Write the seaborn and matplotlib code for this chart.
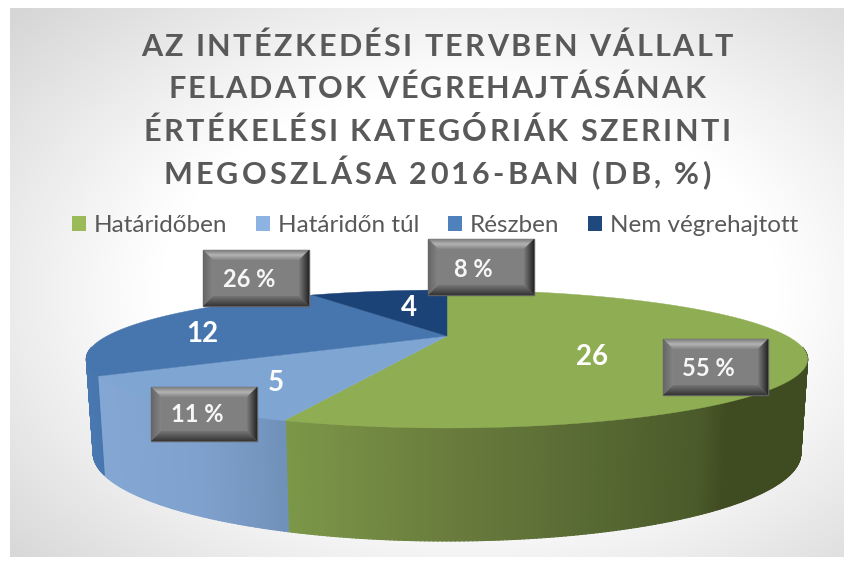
import numpy as np
import seaborn as sns
import matplotlib
matplotlib.use("Agg")
import matplotlib.pyplot as plt
from matplotlib.collections import PolyCollection
from matplotlib.colors import LinearSegmentedColormap, to_rgb
from matplotlib.patches import Patch, Polygon
from matplotlib.text import Text

# data
categories = ["Határidőben", "Határidőn túl", "Részben", "Nem végrehajtott"]
counts = [26, 5, 12, 4]
percents = ["55 %", "11 %", "26 %", "8 %"]
title_lines = ["AZ INTÉZKEDÉSI TERVBEN VÁLLALT", "FELADATOK VÉGREHAJTÁSÁNAK",
               "ÉRTÉKELÉSI KATEGÓRIÁK SZERINTI", "MEGOSZLÁSA 2016-BAN (DB, %)"]

# colours
legend_colors = sns.color_palette(["#9bbb59", "#8db3e2", "#4f81bd", "#1f497d"])
top_colors = sns.color_palette(["#8fae54", "#7fa5d3", "#4776ae", "#1b4377"])
wall_stops = [
    ([285, 440, 600, 700, 725, 810], ["#7c9848", "#6b7e3e", "#576933", "#4a5a2a", "#3f4c21", "#3f4c21"]),
    ([95, 200, 285], ["#84a7d4", "#7fa1cd", "#7092ba"]),
    ([85, 110], ["#4a78b0", "#4675ad"]),
    ([85, 110], ["#1b4377", "#1b4377"]),
]

# layout, in pixels of the 853x561 picture
sns.set_theme(style="white")
plt.rcParams["font.family"] = ["Lato", "DejaVu Sans"]
fig = plt.figure(figsize=(8.53, 5.61), dpi=100, facecolor="white")
ax = fig.add_axes([0, 0, 1, 1])
W, H = 853, 561
TOP = dict(a=340.0, b=61.3, cy=336.0)
BOTTOM = dict(a=333.6, b=78.0, cy=424.0)
CX, K = 447.0, 1.0 / 3.0


def project(theta, plane):
    # clockwise degrees from the top of the pie -> pixel, with perspective
    t = np.radians(theta)
    u, v = np.sin(t), np.cos(t)
    w = 1 + K * v
    return CX + plane["a"] * u / w, plane["cy"] - plane["b"] * v / w


def mix(stops, x):
    xs, cols = stops
    rgb = np.array([to_rgb(c) for c in cols])
    return [np.interp(x, xs, rgb[:, i]) for i in range(3)]


class TrackedText(Text):
    # one text object for the whole line, drawn with extra room between the letters
    tracking = 0.0

    def draw(self, renderer):
        prop = self.get_fontproperties()
        s = self.get_text()

        def width(part):
            return renderer.get_text_width_height_descent(part + "H", prop, False)[0] - \
                renderer.get_text_width_height_descent("H", prop, False)[0]

        x, y = self.get_transform().transform(self.get_position())
        y = renderer.height - y
        x = x - (width(s) + self.tracking * (len(s) - 1)) / 2
        gc = renderer.new_gc()
        gc.set_foreground(self.get_color())
        gc.set_antialiased(True)
        for i, ch in enumerate(s):
            if ch != " ":
                renderer.draw_text(gc, x + width(s[:i]) + self.tracking * i, y, ch, prop, 0)
        gc.restore()


# background
yy, xx = np.mgrid[0:1:200j, 0:1:300j]
dist = np.sqrt(((xx - 0.55) / 0.75) ** 2 + ((yy - 0.52) / 0.75) ** 2)
bg_cmap = LinearSegmentedColormap.from_list("bg", ["#ffffff", "#ffffff", "#d6d6d6"])
ax.imshow(np.clip(dist, 0, 1), extent=(10, 844, 557, 8), cmap=bg_cmap, vmin=0, vmax=1,
          aspect="auto", zorder=0, interpolation="bilinear")

# slices from the values
edges = np.concatenate([[0], np.cumsum(counts)]) / np.sum(counts) * 360

# side wall, thin strips so that it can be shaded
thetas = np.arange(100, 260, 0.5)
quads, quad_colors = [], []
for t0 in thetas:
    t1 = t0 + 0.6
    x0, y0 = project(t0, TOP)
    x1, y1 = project(t1, TOP)
    x2, y2 = project(t1, BOTTOM)
    x3, y3 = project(t0, BOTTOM)
    idx = np.searchsorted(edges, t0 + 0.25) - 1
    quads.append([(x0, y0), (x1, y1), (x2, y2), (x3, y3)])
    quad_colors.append(mix(wall_stops[idx], (x0 + x3) / 2))
ax.add_collection(PolyCollection(quads, facecolors=quad_colors, edgecolors=quad_colors,
                                 linewidths=0.8, zorder=2))

# top faces
for i in range(len(counts)):
    arc = np.linspace(edges[i], edges[i + 1], 200)
    px, py = project(arc, TOP)
    pts = np.column_stack([np.r_[CX, px], np.r_[TOP["cy"], py]])
    ax.add_patch(Polygon(pts, closed=True, facecolor=top_colors[i], edgecolor=top_colors[i],
                         linewidth=0.3, zorder=3))

# count labels
count_pos = [(592, 357), (276, 383), (202, 334), (409, 308)]
for c, (x, y) in zip(counts, count_pos):
    ax.text(x, y, str(c), color="white", fontsize=20, fontweight="bold",
            ha="center", va="center", zorder=6)


def bevel_box(x0, y0, x1, y1, label, tx, ty):
    b = 10
    ax.add_patch(Polygon([(x0, y0), (x1, y0), (x1, y1), (x0, y1)], facecolor="#808080",
                         edgecolor="#5f5f5f", linewidth=1, zorder=7))
    n = 10
    for j in range(n):
        f0, f1 = j / n, (j + 1) / n
        c_top = np.interp(f0, [0, 0.45, 1], [0.50, 0.70, 0.50])
        c_bot = np.interp(f0, [0, 1], [0.22, 0.47])
        c_left = np.interp(f0, [0, 1], [0.40, 0.52])
        c_right = np.interp(f0, [0, 1], [0.16, 0.50])
        d0, d1 = f0 * b, f1 * b
        ax.add_patch(Polygon([(x0 + d0, y0 + d0), (x1 - d0, y0 + d0), (x1 - d1, y0 + d1), (x0 + d1, y0 + d1)],
                             facecolor=str(c_top), edgecolor="none", zorder=8))
        ax.add_patch(Polygon([(x0 + d0, y1 - d0), (x1 - d0, y1 - d0), (x1 - d1, y1 - d1), (x0 + d1, y1 - d1)],
                             facecolor=str(c_bot), edgecolor="none", zorder=8))
        ax.add_patch(Polygon([(x0 + d0, y0 + d0), (x0 + d0, y1 - d0), (x0 + d1, y1 - d1), (x0 + d1, y0 + d1)],
                             facecolor=str(c_left), edgecolor="none", zorder=8))
        ax.add_patch(Polygon([(x1 - d0, y0 + d0), (x1 - d0, y1 - d0), (x1 - d1, y1 - d1), (x1 - d1, y0 + d1)],
                             facecolor=str(c_right), edgecolor="none", zorder=8))
    ax.text(tx, ty, label, color="#f7f7f7", fontsize=17, fontweight="bold",
            ha="center", va="center", zorder=9)


boxes = [(663, 339, 768, 395, 708, 368), (151, 387, 257, 441, 197, 414),
         (203, 250, 309, 306, 249, 279), (428, 239, 534, 295, 473, 269)]
for p, (x0, y0, x1, y1, tx, ty) in zip(percents, boxes):
    bevel_box(x0, y0, x1, y1, p, tx, ty)

# title, baselines and letter spacing per line
title_base = [56, 98, 141, 184]
title_track = [2.4, 2.1, 2.5, 3.2]
for line, y, tr in zip(title_lines, title_base, title_track):
    t = TrackedText(437, y, line, color="#595959", fontsize=22, fontweight="bold", zorder=5,
                    ha="center", va="baseline", transform=ax.transData)
    t.tracking = tr
    ax.add_artist(t)

# legend
handles = [Patch(facecolor=c, edgecolor="none") for c in legend_colors]
ax.legend(handles, categories, ncol=4, frameon=False, loc="center", bbox_to_anchor=(435 / W, 1 - 226 / H),
          fontsize=17.5, labelcolor="#595959", handlelength=0.58, handleheight=0.58,
          handletextpad=0.3, columnspacing=1.2, borderpad=0, borderaxespad=0)

ax.set_xlim(0, W)
ax.set_ylim(H, 0)
ax.axis("off")
fig.savefig("out.png", dpi=100, facecolor="white")
